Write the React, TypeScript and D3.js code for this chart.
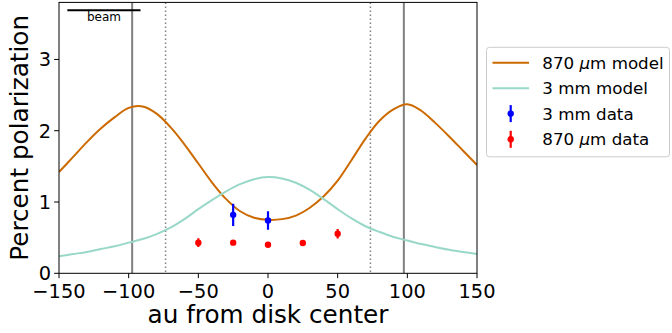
import React from "react";
import * as d3 from "d3";

const modelX = [-150, -140, -130, -120, -110, -100, -90, -80, -70, -60, -50, -40, -30, -20, -10, 0, 10, 20, 30, 40, 50, 60, 70, 80, 90, 100, 110, 120, 130, 140, 150];
const model870 = [1.42, 1.63, 1.84, 2.03, 2.19, 2.32, 2.34, 2.24, 2.05, 1.81, 1.54, 1.27, 1.04, 0.87, 0.78, 0.75, 0.76, 0.81, 0.92, 1.08, 1.30, 1.59, 1.89, 2.14, 2.30, 2.37, 2.28, 2.11, 1.92, 1.72, 1.52];
const model3mm = [0.24, 0.27, 0.30, 0.34, 0.38, 0.43, 0.48, 0.55, 0.64, 0.76, 0.90, 1.03, 1.15, 1.25, 1.32, 1.35, 1.33, 1.27, 1.17, 1.04, 0.90, 0.77, 0.66, 0.58, 0.51, 0.46, 0.41, 0.37, 0.33, 0.30, 0.27];

const data3mmX = [-25, 0];
const data3mmY = [0.82, 0.74];
const data3mmErr = [0.157, 0.13];

const data870X = [-50, -25, 0, 25, 50];
const data870Y = [0.43, 0.43, 0.40, 0.425, 0.555];
const data870Err = [0.06, 0.02, 0.02, 0.02, 0.068];

const solidLines = [-97.5, 97.5];
const dottedLines = [-73.5, 73.5];
const beam = [-144, -91.5];
const beamY = 3.69;

const xTicks = [-150, -100, -50, 0, 50, 100, 150];
const yTicks = [0, 1, 2, 3];

const legendLabels = ["870 μm model", "3 mm model", "3 mm data", "870 μm data"];

const C_ORANGE = "#cc6a00";
const C_TEAL = "#99d8c9";
const C_BLUE = "#0000ff";
const C_RED = "#ff0000";
const FONT = "DejaVu Sans";

function Label({ text }: { text: string }) {
  const parts = text.split("μ");
  if (parts.length === 1) return <>{text}</>;
  return (
    <>
      {parts[0]}
      <tspan fontStyle="italic">μ</tspan>
      {parts[1]}
    </>
  );
}

export default function App() {
  const W = 672, H = 333;
  const left = 59, right = 477, top = 2.4, bottom = 273.3;
  const x = d3.scaleLinear().domain([-150, 150]).range([left, right]);
  const y = d3.scaleLinear().domain([0, 3.8]).range([bottom, top]);
  const mk = (vals: number[]) =>
    d3
      .line<number>()
      .x((_, i) => x(modelX[i]))
      .y((d) => y(d))
      .curve(d3.curveCatmullRom.alpha(0.5))(vals) || "";
  const path870 = mk(model870);
  const path3 = mk(model3mm);
  const fmt = d3.format("d");

  const legendRowsY = [62.7, 88.3, 113.6, 139.3];

  return (
    <svg width={W} height={H} style={{ position: "absolute", left: 0, top: 0, display: "block" }} fontFamily={FONT}>
      <defs>
        <clipPath id="plotclip">
          <rect x={left} y={top} width={right - left} height={bottom - top} />
        </clipPath>
      </defs>
      <g clipPath="url(#plotclip)">
        {solidLines.map((v, i) => (
          <line key={"s" + i} x1={x(v)} x2={x(v)} y1={top} y2={bottom} stroke="#808080" strokeWidth={2} />
        ))}
        {dottedLines.map((v, i) => (
          <line key={"d" + i} x1={x(v)} x2={x(v)} y1={top} y2={bottom} stroke="#808080" strokeWidth={1.5} strokeDasharray="1.5,2.5" />
        ))}
        <path d={path870} fill="none" stroke={C_ORANGE} strokeWidth={2} />
        <path d={path3} fill="none" stroke={C_TEAL} strokeWidth={2} />
        {data3mmX.map((v, i) => (
          <g key={"b" + i}>
            <line x1={x(v)} x2={x(v)} y1={y(data3mmY[i] - data3mmErr[i])} y2={y(data3mmY[i] + data3mmErr[i])} stroke={C_BLUE} strokeWidth={2.2} />
            <circle cx={x(v)} cy={y(data3mmY[i])} r={3.2} fill={C_BLUE} />
          </g>
        ))}
        {data870X.map((v, i) => (
          <g key={"r" + i}>
            <line x1={x(v)} x2={x(v)} y1={y(data870Y[i] - data870Err[i])} y2={y(data870Y[i] + data870Err[i])} stroke={C_RED} strokeWidth={2.2} />
            <circle cx={x(v)} cy={y(data870Y[i])} r={3.2} fill={C_RED} />
          </g>
        ))}
        <line x1={x(beam[0])} x2={x(beam[1])} y1={y(beamY)} y2={y(beamY)} stroke="#000" strokeWidth={2} />
        <text x={(x(beam[0]) + x(beam[1])) / 2} y={21} fontSize={12} textAnchor="middle" fill="#000">beam</text>
      </g>
      <rect x={left} y={top} width={right - left} height={bottom - top} fill="none" stroke="#000" strokeWidth={1} />
      {xTicks.map((t) => (
        <g key={"xt" + t}>
          <line x1={x(t)} x2={x(t)} y1={bottom} y2={bottom + 4.9} stroke="#000" strokeWidth={1} />
          <text x={x(t)} y={298} fontSize={19.4} textAnchor="middle" fill="#000">{fmt(t).replace("-", "−")}</text>
        </g>
      ))}
      {yTicks.map((t) => (
        <g key={"yt" + t}>
          <line x1={left - 4.9} x2={left} y1={y(t)} y2={y(t)} stroke="#000" strokeWidth={1} />
          <text x={left - 8} y={y(t) + 7} fontSize={19.4} textAnchor="end" fill="#000">{fmt(t)}</text>
        </g>
      ))}
      <text x={(left + right) / 2} y={323} fontSize={24.7} textAnchor="middle" fill="#000">au from disk center</text>
      <text transform={`translate(28,${(top + bottom) / 2}) rotate(-90)`} fontSize={24.7} textAnchor="middle" fill="#000">Percent polarization</text>
      <rect x={486.5} y={47.3} width={183} height={109.5} rx={3} ry={3} fill="#fff" fillOpacity={0.8} stroke="#cccccc" strokeWidth={1} />
      {legendLabels.map((lab, i) => {
        const cy = legendRowsY[i];
        let sym: React.ReactNode = null;
        if (i === 0 || i === 1) {
          sym = <line x1={492.5} x2={529} y1={cy} y2={cy} stroke={i === 0 ? C_ORANGE : C_TEAL} strokeWidth={2} />;
        } else {
          const col = i === 2 ? C_BLUE : C_RED;
          sym = (
            <g>
              <line x1={510.7} x2={510.7} y1={cy - 8.5} y2={cy + 8.5} stroke={col} strokeWidth={2.2} />
              <circle cx={510.7} cy={cy} r={3.2} fill={col} />
            </g>
          );
        }
        return (
          <g key={"lg" + i}>
            {sym}
            <text x={542.3} y={cy + 6} fontSize={16.7} fill="#000"><Label text={lab} /></text>
          </g>
        );
      })}
    </svg>
  );
}
